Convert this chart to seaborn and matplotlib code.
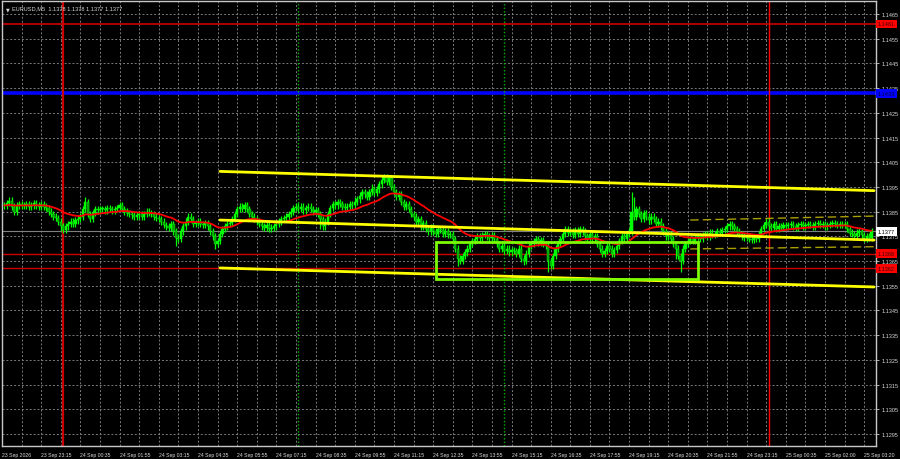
import numpy as np
import pandas as pd
import matplotlib
matplotlib.use('Agg')
import matplotlib.pyplot as plt
import matplotlib.transforms as mtransforms
from matplotlib.patches import Rectangle
import seaborn as sns

# EURUSD M5, bar 0 = 24 Sep 00:00, closes in pips above 1.1300
first_bar = -24
close_pips = [
    87.5, 88.5, 89.5, 87, 85, 87.5, 88, 87.5,
    87.5, 88, 87, 87.5, 88.5, 87.5, 87, 88,
    87, 86.5, 85, 84, 83, 82.5, 81, 79,
    77.5, 79, 80, 81, 80, 81.5, 82, 83,
    86, 89, 84, 82, 84.5, 86, 85.5, 86,
    86, 85.5, 86.5, 86, 85.5, 86, 86.5, 87.5,
    86, 85, 84.5, 84, 83.5, 83, 83.5, 84,
    83, 84, 85, 84.5, 84, 83, 82.5, 82,
    81, 79.5, 79, 78.5, 80, 77, 74.5, 74,
    77, 79, 81, 83, 82, 80, 80.5, 81,
    80, 79.5, 80.5, 79, 77, 75, 72, 73,
    76, 78, 79, 80, 80.5, 82, 84, 86,
    87, 86, 87.5, 86, 84, 83, 82, 81,
    80, 79, 78.5, 79.5, 78, 78.5, 79, 80,
    81, 82, 82.5, 83, 84, 85, 86.5, 87,
    86, 87, 85.5, 86.5, 87, 86, 85, 85.5,
    84, 82, 79, 81, 84, 86.5, 88, 87.5,
    89, 88, 87, 86.5, 87, 88, 87.5, 89,
    90, 91.5, 93, 92, 91, 93, 94, 92.5,
    94, 96, 98, 99, 97, 98.5, 95, 93,
    91, 92, 89, 87, 88, 86, 84, 83,
    81, 82, 79, 80.5, 78, 77, 78.5, 77,
    76, 78, 77.5, 76, 77, 75.5, 76, 74,
    70, 66, 65, 67, 68.5, 70, 72, 73,
    74, 75, 74.5, 75.5, 76, 75, 74.5, 75.5,
    74, 72, 70, 71, 69, 70, 68.5, 69.5,
    69, 68, 70, 66, 65, 68, 71, 72,
    73, 74, 72.5, 73.5, 72, 71, 65, 63,
    67, 70, 72, 74, 76, 78, 76.5, 77,
    75.5, 77.5, 76, 78, 77, 75, 74, 76,
    74, 75, 72, 70, 68, 69, 71, 70,
    68, 69.5, 71, 73, 75, 74, 76, 77,
    85, 83, 86, 84, 82, 84.5, 83, 81.5,
    83, 82, 80, 81, 79, 77, 75, 76,
    74, 72, 70, 67, 65, 70, 72, 73,
    74, 73, 74.5, 75, 74, 75.5, 76, 75,
    76.5, 75.5, 76, 77, 76.5, 77.5, 78, 79,
    80, 79, 78, 77, 76, 75, 74.5, 75,
    74, 73.5, 74.5, 74, 76, 78, 79.5, 81,
    79, 78.5, 80, 78, 79, 78.5, 79.5, 79,
    79.5, 80, 79, 78.5, 79.5, 80, 79, 79.5,
    80, 79.5, 79, 80, 80.5, 79.5, 80, 79,
    79.5, 80, 80.5, 80, 79.5, 80, 79.5, 80,
    78, 76.5, 76, 75, 76.5, 77, 75.5, 74,
    75, 74.5, 77,
]
# long wicks (bar: pips above 1.1300)
spike_highs = {-22: 90.5, 9: 91, 119: 91, 126: 96, 131: 100, 232: 93, 233: 91}
spike_lows = {-1: 77, 46: 71, 62: 70, 105: 78, 161: 63, 188: 63.5, 198: 60.5,
              250: 66, 252: 60.5}

levels_red = [1.1461, 1.1368, 1.1362]
level_blue = 1.1433
last_price = 1.1377
day_bars = [0, 288]
session_bars = [96, 180]

channel_bars = [64, 331]
channel_upper = [1.14013, 1.13935]
channel_mid = [1.13816, 1.13735]
channel_lower = [1.13622, 1.13545]
dashed_bars = [256, 331]
dashed_upper = [1.13816, 1.13832]
dashed_lower = [1.13699, 1.13708]
box_bars = [152, 259]
box_prices = [1.13579, 1.13729]

y_ticks = [round(1.1295 + 0.001 * k, 4) for k in range(18)]
x_tick_bars = [-25] + list(range(-9, 331, 16))
x_tick_labels = ['23 Sep 2026', '23 Sep 23:15', '24 Sep 00:35', '24 Sep 01:55',
                 '24 Sep 03:15', '24 Sep 04:35', '24 Sep 05:55', '24 Sep 07:15',
                 '24 Sep 08:35', '24 Sep 09:55', '24 Sep 11:15', '24 Sep 12:35',
                 '24 Sep 13:55', '24 Sep 15:15', '24 Sep 16:35', '24 Sep 17:55',
                 '24 Sep 19:15', '24 Sep 20:35', '24 Sep 21:55', '24 Sep 23:15',
                 '25 Sep 00:35', '25 Sep 02:00', '25 Sep 03:20']

bars = np.arange(first_bar, first_bar + len(close_pips))
close = 1.13 + np.array(close_pips) / 10000
open_ = np.concatenate([[close[0]], close[:-1]])
high = np.maximum(open_, close) + 0.00013
low = np.minimum(open_, close) - 0.00013
for b, v in spike_highs.items():
    high[b - first_bar] = max(high[b - first_bar], 1.13 + v / 10000)
for b, v in spike_lows.items():
    low[b - first_bar] = min(low[b - first_bar], 1.13 + v / 10000)
df = pd.DataFrame({'bar': bars, 'open': open_, 'close': close, 'high': high, 'low': low})
df['ma'] = df['close'].ewm(span=25, adjust=False).mean()

sns.set_style('dark', {'axes.facecolor': 'black', 'figure.facecolor': 'black'})
plt.rcParams['font.family'] = ['Liberation Sans', 'DejaVu Sans']
fs_x = 3.7
fs_y = 4.0
txt = '#d8d8d8'

fig = plt.figure(figsize=(9, 4.6), dpi=100, facecolor='black')
ax = fig.add_axes([2 / 900, 13 / 460, 874 / 900, 445 / 460])
ax.set_facecolor('black')
ax.set_xlim(-24.9, 331.8)
ax.set_ylim(1.12901, 1.14703)

# grid
ax.set_yticks(y_ticks)
ax.set_xticks(x_tick_bars)
ax.set_xticks([b for b in range(-17, 332, 8) if b not in x_tick_bars], minor=True)
ax.grid(True, which='both', color='#7a7a7a', linestyle=(0, (2, 2)), linewidth=0.7)
ax.set_axisbelow(True)

# levels
for i, lv in enumerate(levels_red):
    ax.axhline(lv, color='#cc0000', lw=1.2 if i == 0 else 1.0, zorder=1.5)
ax.axhline(level_blue, color='#0000ff', lw=2.6, zorder=1.5)
ax.axhline(last_price, color='#808080', lw=0.8, zorder=1.5)
ax.axvline(day_bars[0], color='#cc0000', lw=1.6, zorder=1.5)
ax.axvline(day_bars[1], color='#ff0000', lw=1.0, zorder=1.5)
for b in session_bars:
    ax.axvline(b, color='#00b000', lw=1.0, linestyle=(0, (1, 1.5)), zorder=1.5)

# candles
up = df['close'] >= df['open']
ax.vlines(df['bar'], df['low'], df['high'], color='#00ff00', lw=0.9, zorder=3)
body = (df['close'] - df['open']).where(lambda s: s.abs() > 0.00003, 0.00003)
ax.bar(df['bar'], body, bottom=df['open'], width=0.9,
       color=np.where(up, '#00ff00', '#009a00'), edgecolor='#00ff00',
       linewidth=0.3, zorder=3)

# moving average
sns.lineplot(data=df, x='bar', y='ma', color='#ff0000', lw=1.3, ax=ax, zorder=4)

# channel, dashed lines, box
for ys in (channel_upper, channel_mid, channel_lower):
    sns.lineplot(x=channel_bars, y=ys, color='#ffff00', lw=2.0, ax=ax, zorder=5)
for ys in (dashed_upper, dashed_lower):
    ax.plot(dashed_bars, ys, color='#a89f00', lw=1.0, linestyle=(0, (6, 3)), zorder=5)
ax.add_patch(Rectangle((box_bars[0], box_prices[0]), box_bars[1] - box_bars[0],
                       box_prices[1] - box_prices[0], fill=False,
                       edgecolor='#7cfc00', lw=2.0, zorder=6))

# axes look
ax.set_xlabel('')
ax.set_ylabel('')
for s in ax.spines.values():
    s.set_color('#c8c8c8')
    s.set_linewidth(1.0)
ax.yaxis.tick_right()
ax.set_yticklabels([f'{v:.4f}' for v in y_ticks])
ax.set_xticklabels(x_tick_labels, ha='left')
ax.tick_params(axis='y', colors='#c8c8c8', labelcolor=txt, labelsize=fs_y,
               length=2.5, width=0.6, pad=1.5)
ax.tick_params(axis='x', colors='#c8c8c8', labelcolor=txt, labelsize=fs_x,
               length=2.5, width=0.6, pad=1.5)
ax.tick_params(axis='x', which='minor', length=0)

# price tags on the right scale
tr = mtransforms.blended_transform_factory(ax.transAxes, ax.transData)
tags = [(levels_red[0], '#ff0000', '#400000'), (level_blue, '#0000ff', '#000040'),
        (last_price, '#ffffff', '#000000'), (levels_red[1], '#ff0000', '#400000'),
        (levels_red[2], '#ff0000', '#400000')]
for price, bg, fg in tags:
    ax.text(1.002, price, f'{price:.4f}', transform=tr, ha='left', va='center',
            fontsize=fs_y, color=fg, zorder=10, clip_on=False,
            bbox=dict(boxstyle='square,pad=0.35', fc=bg, ec='none'))

ax.text(0.004, 0.988, '\u25bc', transform=ax.transAxes, ha='left', va='top',
        fontsize=3.5, color=txt, family='DejaVu Sans')
ax.text(0.012, 0.99, 'EURUSD,M5  1.1378 1.1378 1.1377 1.1377', transform=ax.transAxes,
        ha='left', va='top', fontsize=4.1, color=txt)

fig.savefig('out.png', dpi=100, facecolor='black')
